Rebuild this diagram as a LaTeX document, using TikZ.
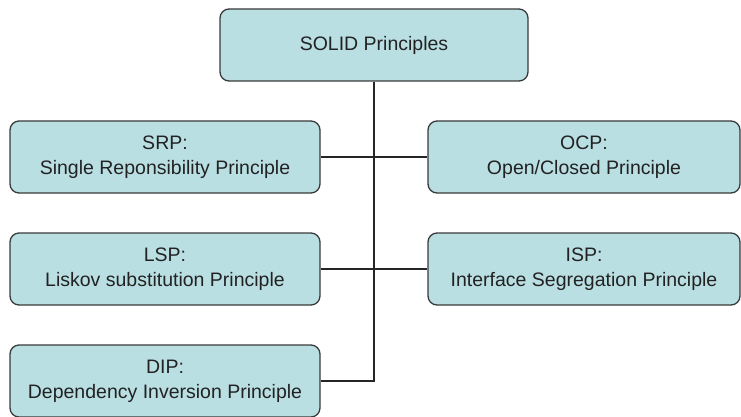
\documentclass[tikz,border=0pt]{standalone}
\usepackage{fontspec}
\setmainfont{Liberation Sans}
\definecolor{boxfill}{HTML}{B9DFE3}
\definecolor{boxline}{HTML}{3A3A3A}
\definecolor{txt}{HTML}{222222}
\begin{document}
\begin{tikzpicture}[x=1pt,y=-1pt,
  pbox/.style={draw=boxline,fill=boxfill,line width=1.3pt,rounded corners=9pt,
    minimum height=72pt,align=center,inner sep=0pt,text=txt,
    font=\fontsize{19.5}{25}\selectfont},
  link/.style={draw=black!85,line width=1.8pt}]
\useasboundingbox (0,0) rectangle (741,417);
\node[pbox,minimum width=308pt] (solid) at (374,45) {SOLID Principles};
\node[pbox,minimum width=310pt] (srp) at (165,157) {SRP:\\Single Reponsibility Principle};
\node[pbox,minimum width=312pt] (ocp) at (584,157) {OCP:\\Open/Closed Principle};
\node[pbox,minimum width=310pt] (lsp) at (165,269) {LSP:\\Liskov substitution Principle};
\node[pbox,minimum width=312pt] (isp) at (584,269) {ISP:\\Interface Segregation Principle};
\node[pbox,minimum width=310pt] (dip) at (165,381) {DIP:\\Dependency Inversion Principle};
\coordinate (j1) at (374,157);
\coordinate (j2) at (374,269);
\coordinate (j3) at (374,381);
\draw[link] (solid.south) -- (j3) -- (dip.east);
\draw[link] (srp.east) -- (ocp.west);
\draw[link] (lsp.east) -- (isp.west);
\end{tikzpicture}
\end{document}
